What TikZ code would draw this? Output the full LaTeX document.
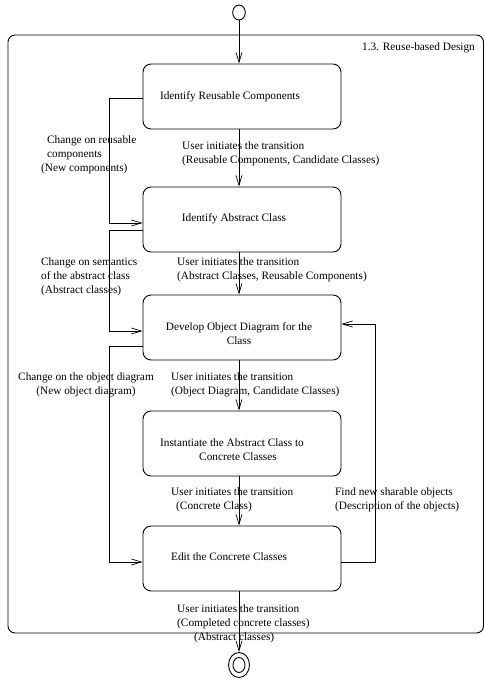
\documentclass[tikz,border=0pt]{standalone}
\usepackage{fontspec}
\setmainfont{Liberation Serif}
\usetikzlibrary{arrows.meta,shapes.geometric}
\begin{document}
\begin{tikzpicture}[x=1pt,y=-1pt,
  every node/.style={font=\fontsize{11.3}{14}\selectfont},
  statebox/.style={draw,line width=0.9pt,rounded corners=8pt,minimum width=198pt,minimum height=65pt,inner sep=0pt},
  txt/.style={inner sep=0pt},
  lbl/.style={inner sep=0pt,anchor=west,align=left},
  flow/.style={line width=0.7pt,-{Straight Barb[length=10pt,width=6pt]}},
  link/.style={line width=0.7pt},
  pseudo/.style={draw,ellipse,line width=0.9pt,inner sep=0pt}]
\useasboundingbox (0,0) rectangle (484,681);

% composite state frame and its name
\draw[line width=0.9pt,rounded corners=7pt] (8,35) rectangle (483.5,633);
\node[lbl] (title) at (362,48) {1.3. Reuse-based Design};

% initial and final pseudostates
\node[pseudo,minimum width=12.6pt,minimum height=15pt] (init) at (239,12.5) {};
\node[pseudo,minimum width=21pt,minimum height=25pt] (fin) at (239,665) {};
\node[pseudo,minimum width=12pt,minimum height=15pt] (fincore) at (239,665) {};

% activity states
\node[statebox] (b1) at (242,96.5) {};
\node[statebox] (b2) at (242,219.5) {};
\node[statebox] (b3) at (242,327.5) {};
\node[statebox] (b4) at (242,443.5) {};
\node[statebox] (b5) at (242,558.5) {};

\node[txt] (t1) at (230,97) {Identify Reusable Components};
\node[txt] (t2) at (234,219) {Identify Abstract Class};
\node[txt,align=center] (t3) at (239,334) {Develop Object Diagram for the\\Class};
\node[txt,align=center] (t4) at (232,450) {Instantiate the Abstract Class to\\\hspace*{12pt}Concrete Classes};
\node[txt] (t5) at (229,557) {Edit the Concrete Classes};

% main sequence of transitions
\draw[flow] (init) -- (b1.north -| init);
\draw[flow] (b1.south -| init) -- (b2.north -| init);
\draw[flow] (b2.south -| init) -- (b3.north -| init);
\draw[flow] (b3.south -| init) -- (b4.north -| init);
\draw[flow] (b4.south -| init) -- (b5.north -| init);
\draw[flow] (b5.south -| init) -- (fin.north);

\node[lbl] (u1) at (182,153.5) {User initiates the transition\\(Reusable Components, Candidate Classes)};
\node[lbl] (u2) at (177,270) {User initiates the transition\\(Abstract Classes, Reusable Components)};
\node[lbl] (u3) at (171,384.5) {User initiates the transition\\(Object Diagram, Candidate Classes)};
\node[lbl] (u4) at (171,500) {User initiates the transition\\\hspace*{5pt}(Concrete Class)};
\node[lbl] (u5) at (177,623.5) {User initiates the transition\\(Completed concrete classes)\\\hspace*{17pt}(Abstract classes)};

% change loops on the left
\coordinate (a1) at (109,98);
\coordinate (a2) at (109,223);
\coordinate (c1) at (109,230);
\coordinate (c2) at (109,331);
\coordinate (d1) at (109,346);
\coordinate (d2) at (109,562);
\draw[flow] (b1.west |- a1) -- (a1) -- (a2) -- (b2.west |- a2);
\draw[flow] (b2.west |- c1) -- (c1) -- (c2) -- (b3.west |- c2);
\draw[flow] (b3.west |- d1) -- (d1) -- (d2) -- (b5.west |- d2);

\node[lbl] (n1) at (47,154.3) {Change on reusable\\components\\\hspace*{-6pt}(New components)};
\node[lbl] (n2) at (41,277) {Change on semantics\\of the abstract class\\(Abstract classes)};
\node[txt,align=center] (n3) at (86,384.5) {Change on the object diagram\\(New object diagram)};

% loop on the right back to the object diagram
\coordinate (e1) at (375,562);
\coordinate (e2) at (375,324);
\draw[flow] (b5.east |- e1) -- (e1) -- (e2) -- (b3.east |- e2);
\node[lbl] (n4) at (335,500) {Find new sharable objects\\(Description of the objects)};
\end{tikzpicture}
\end{document}
